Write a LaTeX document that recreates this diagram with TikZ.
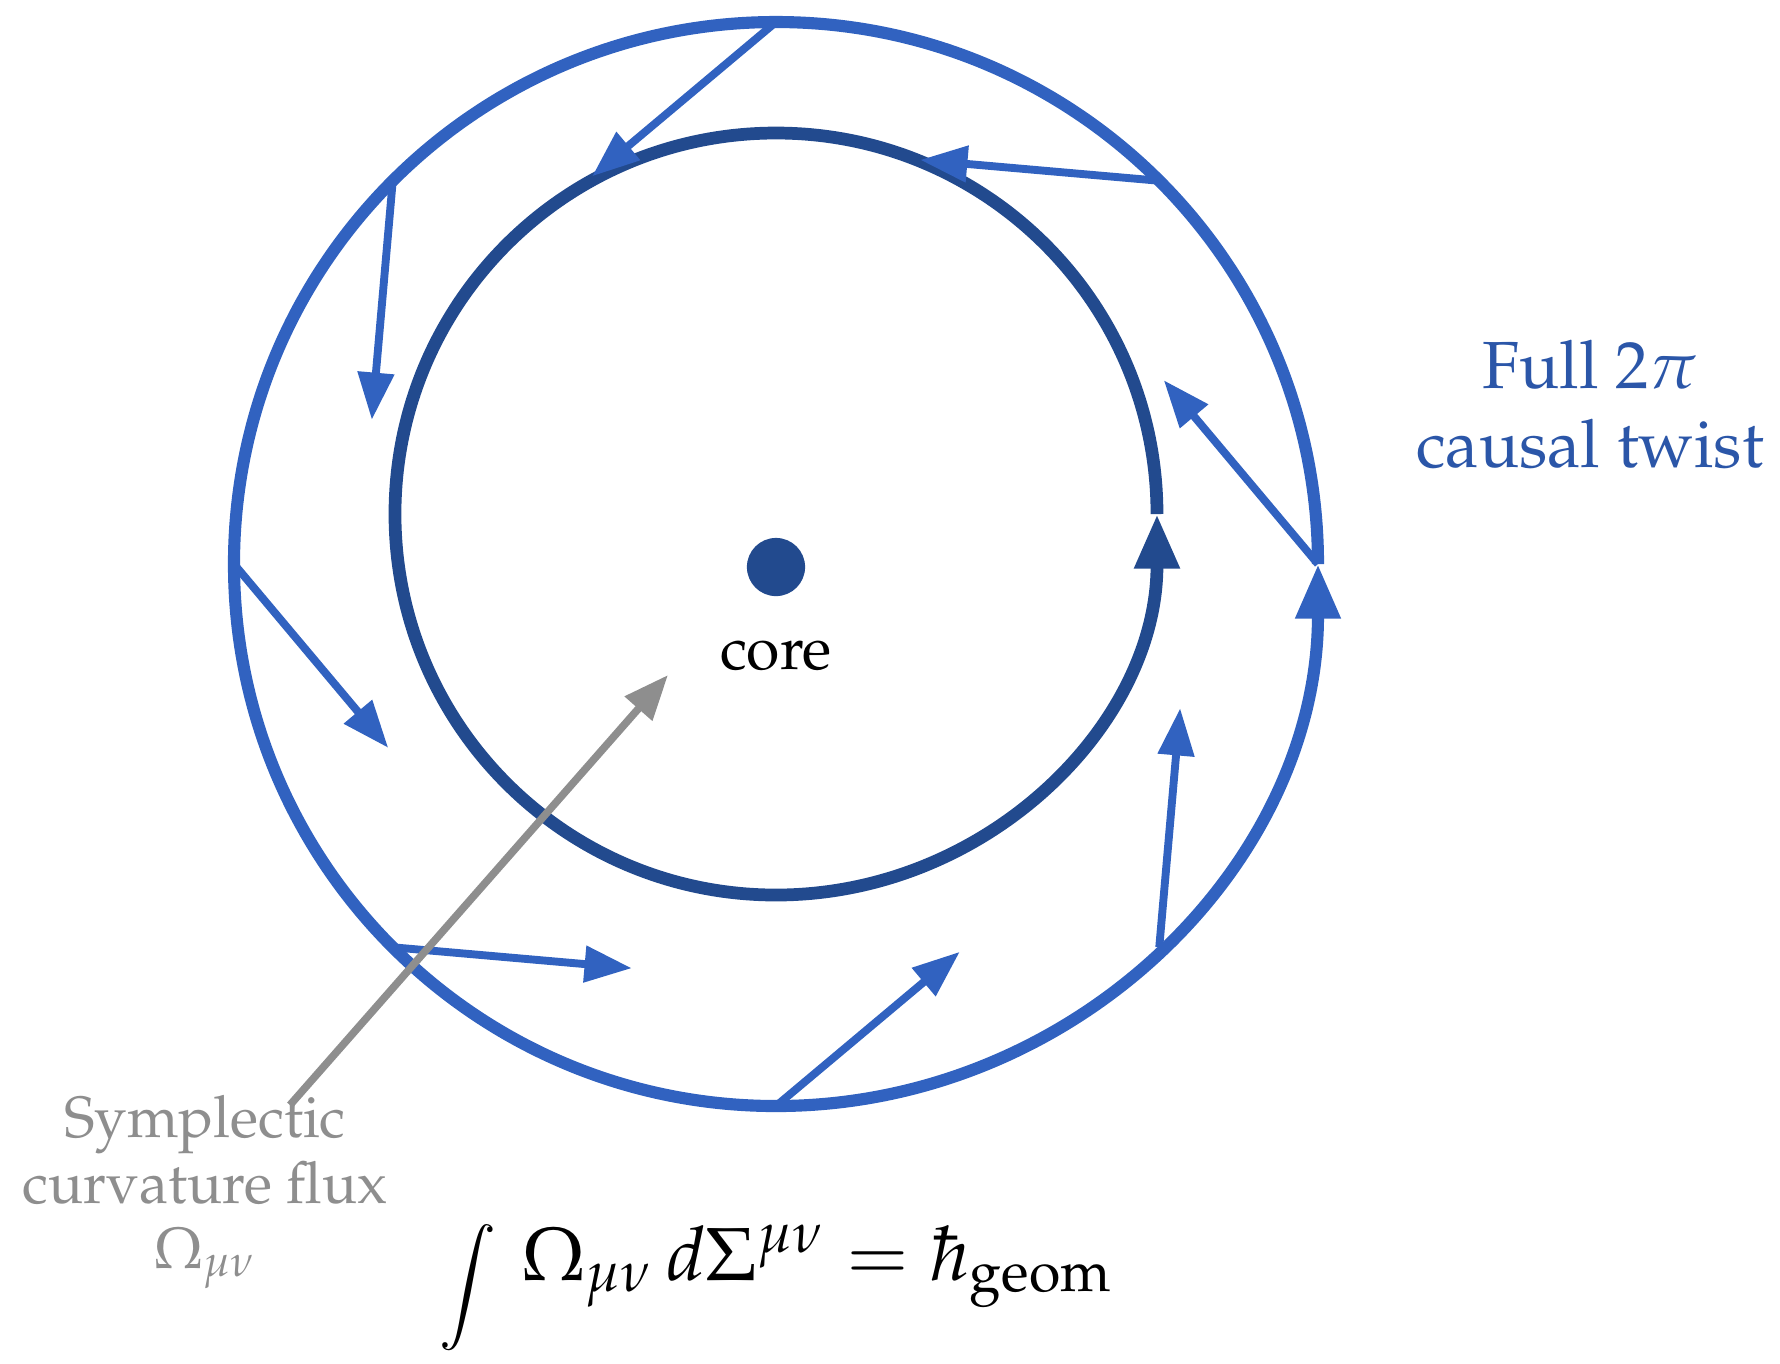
\documentclass[tikz,border=0pt]{standalone}
\usepackage[T1]{fontenc}
\usepackage{mathpazo}
\usepackage{graphicx}
\usetikzlibrary{arrows.meta,calc}
\definecolor{outerblue}{RGB}{49,98,192}
\definecolor{innerblue}{RGB}{34,74,142}
\definecolor{labelblue}{RGB}{43,86,168}
\definecolor{fluxgray}{RGB}{142,142,142}
\newcommand{\fluxint}{\mathop{\raisebox{-3.9pt}{\scalebox{0.84}{$\displaystyle\int$}}}}
\begin{document}
\begin{tikzpicture}[x=0.165pt,y=0.165pt,
  outerring/.style={line width=2pt, draw=outerblue, -{Triangle[length=9pt,width=7pt]}},
  innerring/.style={line width=2.1pt, draw=innerblue, -{Triangle[length=9pt,width=7pt]}},
  flowarrow/.style={line width=1.3pt, draw=outerblue, -{Triangle[length=7.8pt,width=5.8pt]}},
  fluxarrow/.style={line width=1.25pt, draw=fluxgray, -{Triangle[length=7.4pt,width=5.8pt]}},
  normaltext/.style={font=\fontsize{10}{12}\selectfont},
  bluetext/.style={font=\fontsize{11}{13}\selectfont, text=labelblue},
  graytext/.style={font=\fontsize{9.6}{11.5}\selectfont, text=fluxgray},
  eqtext/.style={font=\fontsize{12.4}{15}\selectfont}]
\useasboundingbox (-776,-799) rectangle (1004,564);

% rings
\draw[outerring] (0:542) arc[start angle=0, end angle=360, radius=542];
\draw[innerring] (381,50) arc[start angle=0, end angle=360, radius=381];

% flow arrows from the outer ring
\foreach \a [count=\i] in {90,45,0,-45,-90,-135,180,135} {
  \coordinate (s\i) at (\a:542);
  \coordinate (t\i) at ($(s\i)+(\a+130:240)$);
  \draw[flowarrow] (s\i) -- (t\i);
}

% core
\node (core) [circle, fill=innerblue, inner sep=0pt, minimum size=9.6pt] at (0,-3) {};
\node (corelabel) [normaltext, anchor=base] at (0,-105) {core};

% labels
\node (twistA) [bluetext, anchor=base] at (814,176) {Full $2\pi$};
\node (twistB) [bluetext, anchor=base] at (814,97) {causal twist};

\node (fluxA) [graytext, anchor=base] at (-571,-573) {Symplectic};
\node (fluxB) [graytext, anchor=base] at (-571,-639) {curvature flux};
\node (fluxC) [graytext, anchor=base] at (-571,-704) {$\Omega_{\mu\nu}$};

\node (eq) [eqtext, anchor=base] at (0,-716) {$\fluxint\, \Omega_{\mu\nu}\, d\Sigma^{\mu\nu} = \hbar_{\mathrm{geom}}$};

% flux pointer
\coordinate (fluxstart) at (-486,-541);
\coordinate (fluxtip) at (-108,-111);
\draw[fluxarrow] (fluxstart) -- (fluxtip);
\end{tikzpicture}
\end{document}
